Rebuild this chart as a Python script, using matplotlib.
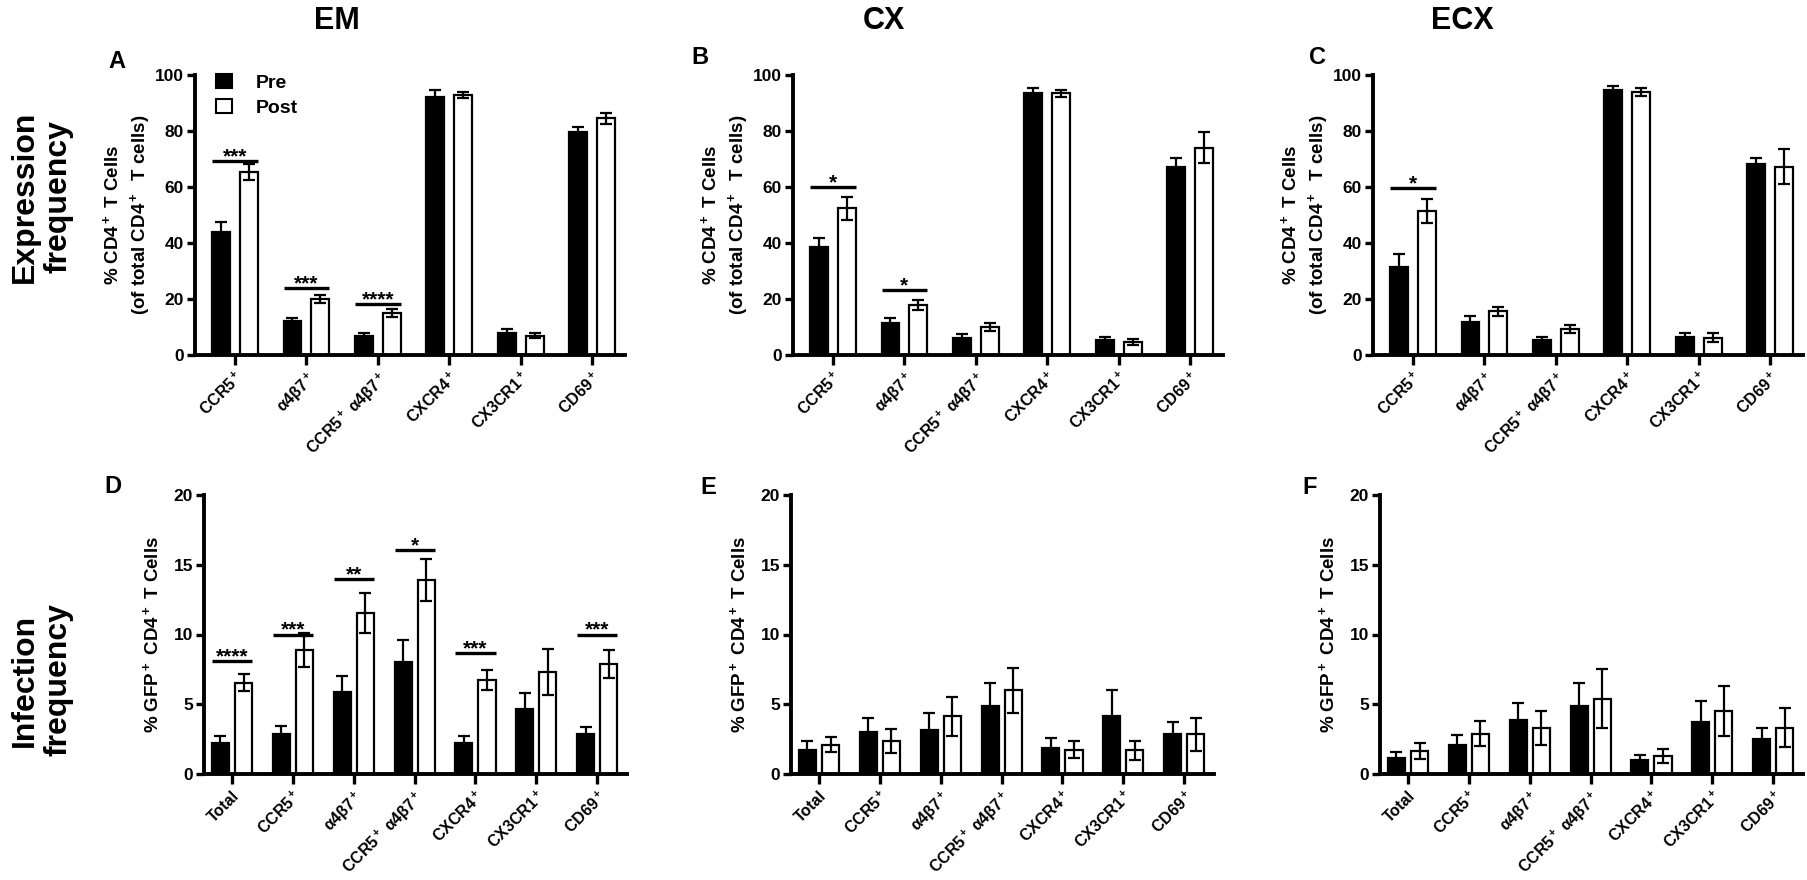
import matplotlib
matplotlib.use("Agg")
import matplotlib.pyplot as plt
from matplotlib.patches import Patch
import numpy as np

plt.rcParams['font.family'] = ['Liberation Sans', 'DejaVu Sans']
plt.rcParams['font.weight'] = 'bold'
plt.rcParams['mathtext.fontset'] = 'custom'
plt.rcParams['mathtext.rm'] = 'Liberation Sans:bold'
plt.rcParams['mathtext.it'] = 'Liberation Sans:bold'
plt.rcParams['mathtext.bf'] = 'Liberation Sans:bold'
plt.rcParams['mathtext.default'] = 'regular'

# categories
expr_labels = ['CCR5$^+$', 'α4β7$^+$', 'CCR5$^+$ α4β7$^+$', 'CXCR4$^+$', 'CX3CR1$^+$', 'CD69$^+$']
inf_labels = ['Total'] + expr_labels

# expression frequency (% of total CD4+ T cells), mean and SEM
em_pre = [44.0, 12.0, 6.8, 92.0, 7.8, 79.6]
em_pre_err = [3.4, 1.3, 1.0, 2.8, 1.4, 1.9]
em_post = [65.3, 20.0, 15.0, 92.8, 6.9, 84.5]
em_post_err = [2.8, 1.3, 1.3, 1.0, 0.8, 2.1]

cx_pre = [38.5, 11.6, 6.2, 93.5, 5.3, 67.3]
cx_pre_err = [3.3, 1.7, 1.2, 2.0, 1.0, 3.2]
cx_post = [52.4, 18.0, 10.0, 93.5, 4.6, 74.0]
cx_post_err = [4.2, 1.8, 1.5, 1.3, 1.1, 5.5]

ecx_pre = [31.5, 11.8, 5.4, 94.8, 6.5, 68.2]
ecx_pre_err = [4.5, 2.3, 0.9, 1.3, 1.3, 2.3]
ecx_post = [51.4, 15.6, 9.3, 93.8, 6.2, 67.3]
ecx_post_err = [4.3, 1.7, 1.5, 1.4, 1.5, 6.3]

# infection frequency (% GFP+ CD4+ T cells)
em_inf_pre = [2.2, 2.9, 5.9, 8.0, 2.2, 4.65, 2.9]
em_inf_pre_err = [0.5, 0.55, 1.15, 1.6, 0.5, 1.15, 0.5]
em_inf_post = [6.55, 8.9, 11.55, 13.9, 6.75, 7.3, 7.9]
em_inf_post_err = [0.6, 1.2, 1.45, 1.5, 0.7, 1.65, 1.0]

cx_inf_pre = [1.7, 3.0, 3.15, 4.9, 1.85, 4.15, 2.85]
cx_inf_pre_err = [0.65, 1.05, 1.25, 1.65, 0.7, 1.9, 0.9]
cx_inf_post = [2.1, 2.35, 4.15, 6.0, 1.75, 1.7, 2.85]
cx_inf_post_err = [0.55, 0.85, 1.4, 1.6, 0.6, 0.7, 1.2]

ecx_inf_pre = [1.15, 2.1, 3.9, 4.9, 1.0, 3.7, 2.5]
ecx_inf_pre_err = [0.4, 0.7, 1.2, 1.6, 0.35, 1.5, 0.8]
ecx_inf_post = [1.65, 2.9, 3.3, 5.4, 1.3, 4.5, 3.3]
ecx_inf_post_err = [0.55, 0.9, 1.2, 2.1, 0.5, 1.8, 1.4]

# significance: (category index, bar height, stars)
em_sig = [(0, 69.4, '***'), (1, 23.9, '***'), (2, 18.2, '****')]
cx_sig = [(0, 60.0, '*'), (1, 23.2, '*')]
ecx_sig = [(0, 59.8, '*')]
em_inf_sig = [(0, 8.1, '****'), (1, 10.0, '***'), (2, 14.0, '**'),
              (3, 16.05, '*'), (4, 8.7, '***'), (6, 10.0, '***')]


def draw_panel(ax, labels, pre, pre_err, post, post_err, sig, ymax, yticks,
               width, offset, xlim):
    x = np.arange(len(labels))
    ekw = dict(elinewidth=1.6, capthick=1.6, ecolor='black')
    ax.bar(x - offset, pre, width, color='black', edgecolor='black', lw=1.6,
           yerr=pre_err, capsize=4.5, error_kw=ekw, zorder=2)
    ax.bar(x + offset, post, width, color='white', edgecolor='black', lw=1.6,
           yerr=post_err, capsize=4.5, error_kw=ekw, zorder=2)
    for i, yv, stars in sig:
        x0 = i - offset - width / 2
        x1 = i + offset + width / 2
        ax.plot([x0, x1], [yv, yv], color='black', lw=2.4, solid_capstyle='butt')
        ax.annotate(stars, (i, yv), xytext=(0, -1), textcoords='offset points',
                    ha='center', va='baseline', fontsize=15, fontweight='bold')
    ax.set_ylim(0, ymax)
    ax.set_yticks(yticks)
    ax.set_xlim(*xlim)
    ax.set_xticks(x)
    ax.set_xticklabels(labels, rotation=45, ha='right', rotation_mode='anchor',
                       fontsize=11.5, fontweight='bold')
    for s in ['top', 'right']:
        ax.spines[s].set_visible(False)
    for s in ['left', 'bottom']:
        ax.spines[s].set_linewidth(2.8)
    ax.tick_params(axis='both', width=2.4, length=6, labelsize=12.5, pad=2)
    ax.tick_params(axis='x', length=7, pad=3, labelsize=11.5)


fig = plt.figure(figsize=(18.08, 8.8), dpi=100)

top_lefts = [195, 793, 1373]
bot_lefts = [204, 791, 1380]
W, H = 1808, 880

top_axes = [fig.add_axes([l / W, 1 - 355 / H, 430 / W, 280 / H]) for l in top_lefts]
bot_axes = [fig.add_axes([l / W, 1 - 774 / H, 423 / W, 279 / H]) for l in bot_lefts]

expr_data = [(em_pre, em_pre_err, em_post, em_post_err, em_sig),
             (cx_pre, cx_pre_err, cx_post, cx_post_err, cx_sig),
             (ecx_pre, ecx_pre_err, ecx_post, ecx_post_err, ecx_sig)]
inf_data = [(em_inf_pre, em_inf_pre_err, em_inf_post, em_inf_post_err, em_inf_sig),
            (cx_inf_pre, cx_inf_pre_err, cx_inf_post, cx_inf_post_err, []),
            (ecx_inf_pre, ecx_inf_pre_err, ecx_inf_post, ecx_inf_post_err, [])]

for ax, d in zip(top_axes, expr_data):
    draw_panel(ax, expr_labels, *d, 100, [0, 20, 40, 60, 80, 100],
               0.25, 0.195, (-0.56, 5.46))
    ax.set_ylabel('% CD4$^+$ T Cells\n(of total CD4$^+$  T cells)',
                  fontsize=13.5, fontweight='bold', linespacing=1.35)
    ax.yaxis.set_label_coords(-0.1, 0.5)

for ax, d in zip(bot_axes, inf_data):
    draw_panel(ax, inf_labels, *d, 20, [0, 5, 10, 15, 20],
               0.28, 0.19, (-0.46, 6.49))
    ax.set_ylabel('% GFP$^+$ CD4$^+$ T Cells', fontsize=13.5, fontweight='bold')
    ax.yaxis.set_label_coords(-0.1, 0.5)

# legend in panel A
handles = [Patch(facecolor='black', edgecolor='black', lw=1.5),
           Patch(facecolor='white', edgecolor='black', lw=1.5)]
top_axes[0].legend(handles, ['Pre', 'Post'], loc='upper left',
                   bbox_to_anchor=(0.05, 1.005), frameon=False, fontsize=14,
                   handlelength=0.8, handleheight=0.8, handletextpad=1.2,
                   labelspacing=0.35, borderpad=0, borderaxespad=0)

# column titles
for t, tx in zip(['EM', 'CX', 'ECX'], [337, 884, 1462]):
    fig.text(tx / W, 1 - 21 / H, t, ha='center', va='center',
             fontsize=22, fontweight='bold')

# panel letters
letters = [('A', 117, 62), ('B', 700, 58), ('C', 1318, 58),
           ('D', 113, 486), ('E', 708, 487), ('F', 1310, 487)]
for t, lx, ly in letters:
    fig.text(lx / W, 1 - ly / H, t, ha='center', va='center',
             fontsize=17, fontweight='bold')

# row labels
fig.text(42 / W, 1 - 197 / H, 'Expression\nfrequency', rotation=90,
         ha='center', va='center', fontsize=23, fontweight='bold', linespacing=1.15)
fig.text(42 / W, 1 - 680 / H, 'Infection\nfrequency', rotation=90,
         ha='center', va='center', fontsize=23, fontweight='bold', linespacing=1.15)

fig.savefig('out.png', dpi=100)
